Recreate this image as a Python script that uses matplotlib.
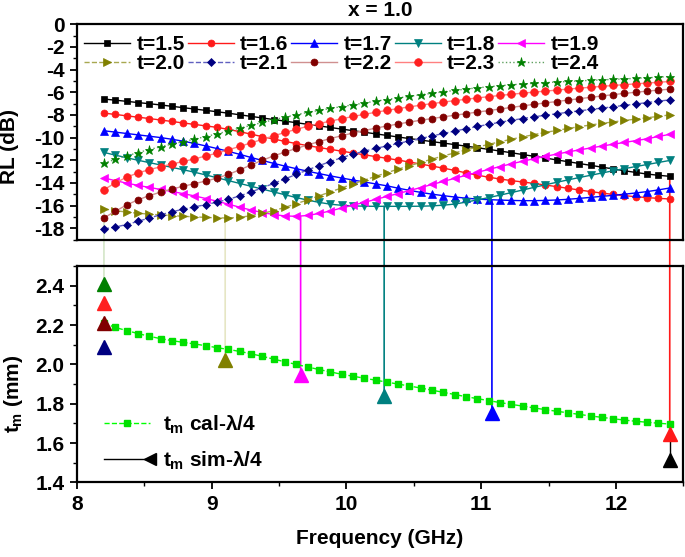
import numpy as np
import matplotlib
matplotlib.use('Agg')
import matplotlib.pyplot as plt
from matplotlib.lines import Line2D
from matplotlib.legend_handler import HandlerLine2D
from matplotlib.patches import ConnectionPatch
from matplotlib.ticker import MultipleLocator

plt.rcParams.update({
    'font.family': ['Liberation Sans', 'DejaVu Sans'],
    'font.weight': 'bold',
    'axes.labelweight': 'bold',
    'axes.titleweight': 'bold',
    'font.size': 15,
    'axes.unicode_minus': False,
    'mathtext.fontset': 'custom',
    'mathtext.rm': 'Liberation Sans:bold',
    'mathtext.it': 'Liberation Sans:bold',
    'mathtext.bf': 'Liberation Sans:bold',
})

# ---------------- data ----------------
freq = [8.200, 8.284, 8.368, 8.452, 8.536, 8.620, 8.704, 8.788, 8.872, 8.956,
        9.040, 9.124, 9.208, 9.292, 9.376, 9.460, 9.544, 9.628, 9.712, 9.796,
        9.880, 9.964, 10.048, 10.132, 10.216, 10.300, 10.384, 10.468, 10.552, 10.636,
        10.720, 10.804, 10.888, 10.972, 11.056, 11.140, 11.224, 11.308, 11.392, 11.476,
        11.560, 11.644, 11.728, 11.812, 11.896, 11.980, 12.064, 12.148, 12.232, 12.316, 12.400]

rl_t15 = [-6.60, -6.70, -6.80, -6.91, -7.01, -7.12, -7.24, -7.36, -7.48, -7.60,
          -7.72, -7.85, -7.99, -8.13, -8.27, -8.41, -8.55, -8.69, -8.83, -8.97,
          -9.11, -9.25, -9.39, -9.53, -9.67, -9.81, -9.95, -10.09, -10.22, -10.36,
          -10.49, -10.62, -10.76, -10.90, -11.04, -11.19, -11.34, -11.50, -11.65, -11.81,
          -11.97, -12.13, -12.29, -12.45, -12.61, -12.77, -12.93, -13.08, -13.22, -13.33, -13.42]
rl_t16 = [-7.84, -7.96, -8.08, -8.20, -8.32, -8.45, -8.58, -8.71, -8.84, -8.97,
          -9.10, -9.28, -9.48, -9.70, -9.92, -10.13, -10.34, -10.53, -10.71, -10.88,
          -11.04, -11.20, -11.36, -11.52, -11.68, -11.83, -11.99, -12.16, -12.34, -12.52,
          -12.70, -12.90, -13.12, -13.32, -13.50, -13.66, -13.80, -13.92, -14.05, -14.19,
          -14.33, -14.48, -14.63, -14.77, -14.90, -15.02, -15.13, -15.22, -15.30, -15.37, -15.42]
rl_t17 = [-9.40, -9.52, -9.64, -9.76, -9.88, -10.00, -10.15, -10.32, -10.52, -10.74,
          -10.97, -11.22, -11.48, -11.76, -12.02, -12.28, -12.52, -12.75, -12.97, -13.18,
          -13.38, -13.57, -13.75, -13.92, -14.09, -14.26, -14.47, -14.66, -14.84, -15.00,
          -15.13, -15.25, -15.35, -15.43, -15.48, -15.52, -15.55, -15.57, -15.57, -15.55,
          -15.51, -15.45, -15.37, -15.28, -15.19, -15.10, -15.00, -14.89, -14.77, -14.62, -14.45]
rl_t18 = [-11.31, -11.55, -11.78, -12.00, -12.21, -12.42, -12.63, -12.84, -13.06, -13.30,
          -13.55, -13.80, -14.05, -14.30, -14.55, -14.80, -15.05, -15.30, -15.52, -15.72,
          -15.88, -15.98, -16.03, -16.06, -16.07, -16.07, -16.07, -16.07, -16.06, -16.03,
          -15.97, -15.87, -15.70, -15.50, -15.30, -15.08, -14.86, -14.63, -14.40, -14.17,
          -13.95, -13.74, -13.53, -13.33, -13.13, -12.93, -12.74, -12.56, -12.38, -12.20, -12.02]
rl_t19 = [-13.57, -13.80, -14.02, -14.22, -14.40, -14.58, -14.76, -14.95, -15.15, -15.38,
          -15.62, -15.88, -16.15, -16.40, -16.62, -16.80, -16.92, -16.95, -16.88, -16.70,
          -16.48, -16.22, -15.97, -15.72, -15.46, -15.20, -14.94, -14.68, -14.41, -14.14,
          -13.87, -13.60, -13.33, -13.07, -12.81, -12.56, -12.32, -12.09, -11.87, -11.66,
          -11.46, -11.27, -11.09, -10.92, -10.75, -10.59, -10.43, -10.27, -10.11, -9.90, -9.72]
rl_t20 = [-16.30, -16.45, -16.58, -16.68, -16.76, -16.83, -16.89, -16.95, -17.00, -17.05,
          -17.09, -17.10, -17.04, -16.90, -16.70, -16.45, -16.16, -15.84, -15.50, -15.15,
          -14.80, -14.45, -14.10, -13.76, -13.43, -13.10, -12.79, -12.49, -12.19, -11.90,
          -11.62, -11.35, -11.09, -10.84, -10.60, -10.37, -10.15, -9.94, -9.74, -9.55,
          -9.37, -9.20, -9.04, -8.89, -8.75, -8.62, -8.49, -8.37, -8.25, -8.13, -8.00]
rl_t21 = [-18.07, -17.90, -17.68, -17.40, -17.10, -16.82, -16.55, -16.33, -16.12, -15.92,
          -15.70, -15.45, -15.15, -14.80, -14.43, -14.05, -13.65, -13.25, -12.86, -12.48,
          -12.12, -11.78, -11.47, -11.20, -10.96, -10.74, -10.52, -10.30, -10.08, -9.86,
          -9.64, -9.43, -9.22, -9.02, -8.83, -8.65, -8.48, -8.32, -8.17, -8.03,
          -7.90, -7.77, -7.64, -7.52, -7.40, -7.28, -7.16, -7.04, -6.91, -6.79, -6.67]
rl_t22 = [-17.09, -16.51, -15.95, -15.50, -15.13, -14.82, -14.55, -14.30, -14.07, -13.84,
          -13.58, -13.25, -12.85, -12.42, -12.00, -11.62, -11.28, -10.96, -10.65, -10.36,
          -10.09, -9.84, -9.60, -9.38, -9.17, -8.98, -8.80, -8.63, -8.47, -8.32,
          -8.17, -8.03, -7.89, -7.75, -7.62, -7.48, -7.34, -7.20, -7.07, -6.94,
          -6.82, -6.69, -6.57, -6.45, -6.33, -6.21, -6.10, -6.00, -5.90, -5.81, -5.73]
rl_t23 = [-14.60, -14.01, -13.50, -13.12, -12.84, -12.58, -12.34, -12.11, -11.88, -11.63,
          -11.37, -11.08, -10.78, -10.47, -10.16, -9.85, -9.55, -9.27, -9.01, -8.77,
          -8.55, -8.34, -8.14, -7.95, -7.77, -7.60, -7.44, -7.29, -7.14, -7.00,
          -6.87, -6.74, -6.62, -6.50, -6.39, -6.28, -6.18, -6.08, -5.99, -5.90,
          -5.81, -5.72, -5.64, -5.56, -5.48, -5.40, -5.33, -5.26, -5.19, -5.12, -5.05]
rl_t24 = [-12.25, -11.93, -11.62, -11.33, -11.06, -10.81, -10.58, -10.36, -10.14, -9.91,
          -9.67, -9.42, -9.17, -8.92, -8.67, -8.43, -8.20, -7.98, -7.78, -7.60,
          -7.43, -7.27, -7.11, -6.95, -6.79, -6.64, -6.50, -6.36, -6.22, -6.09,
          -5.96, -5.84, -5.72, -5.61, -5.51, -5.42, -5.34, -5.27, -5.21, -5.15,
          -5.10, -5.05, -5.00, -4.95, -4.91, -4.86, -4.82, -4.77, -4.72, -4.67, -4.61]

series_labels = ['t=1.5', 't=1.6', 't=1.7', 't=1.8', 't=1.9',
                 't=2.0', 't=2.1', 't=2.2', 't=2.3', 't=2.4']
series_values = [rl_t15, rl_t16, rl_t17, rl_t18, rl_t19,
                 rl_t20, rl_t21, rl_t22, rl_t23, rl_t24]

tm_cal = [2.210, 2.188, 2.172, 2.157, 2.143, 2.131, 2.121, 2.112, 2.104, 2.095,
          2.085, 2.076, 2.066, 2.054, 2.041, 2.027, 2.013, 2.000, 1.987, 1.974,
          1.962, 1.950, 1.940, 1.930, 1.920, 1.910, 1.900, 1.890, 1.880, 1.869,
          1.858, 1.847, 1.836, 1.826, 1.816, 1.806, 1.797, 1.788, 1.779, 1.770,
          1.762, 1.754, 1.746, 1.738, 1.731, 1.724, 1.717, 1.711, 1.706, 1.701, 1.697]

# simulated quarter-wave thicknesses (t = 2.4 ... 1.5)
sim_f = [8.2, 8.2, 8.2, 8.2, 9.1, 9.66, 10.28, 11.08, 12.4, 12.4]
sim_tm = [2.41, 2.31, 2.21, 2.09, 2.02, 1.947, 1.841, 1.751, 1.646, 1.515]

# vertical guide lines: frequency, RL in top panel, tm in bottom panel
guide_f = [8.2, 9.1, 9.66, 10.28, 11.08, 12.4]
guide_rl = [-16.3, -17.1, -16.95, -16.07, -15.57, -13.42]
guide_tm = [2.41, 2.02, 1.947, 1.841, 1.751, 1.646]

# ---------------- styles ----------------
mk_colors = ['#000000', '#ff1a1a', '#0000ff', '#008080', '#ff00ff',
             '#808000', '#000080', '#800000', '#ff2020', '#008000']
ln_colors = ['#000000', '#ff1a1a', '#0000ff', '#008080', '#ff00ff',
             '#a8a850', '#6060c0', '#d09090', '#ff8080', '#60a060']
markers = ['s', 'o', '^', 'v', '<', '>', 'D', 'o', 'o', '*']
msizes = [4.2, 5, 5.5, 5.5, 5.5, 5.5, 4.2, 5, 5.5, 6.5]
lstyles = ['-', '-', '-', '-', '-', '--', '--', '-', '-', ':']
sim_colors = ['#008000', '#ff2020', '#800000', '#000080', '#808000',
              '#ff00ff', '#008080', '#0000ff', '#ff1a1a', '#000000']
guide_colors = ['#d4e6c8', '#e6e6c4', '#ff00ff', '#008080', '#0000ff', '#ff1a1a']

fig = plt.figure(figsize=(6.85, 5.57), dpi=100)
ax1 = fig.add_axes([0.1124, 0.570, 0.885, 0.3864])
ax2 = fig.add_axes([0.1124, 0.1338, 0.885, 0.3886])
for ax in (ax1, ax2):
    ax.set_facecolor('none')
    for s in ax.spines.values():
        s.set_linewidth(1.6)

handles = []
for lab, vals, mc, lc, m, ms, ls in zip(series_labels, series_values, mk_colors,
                                         ln_colors, markers, msizes, lstyles):
    h, = ax1.plot(freq, vals, color=lc, ls=ls, lw=1.0, marker=m, ms=ms,
                  mfc=mc, mec=mc, mew=0.5, label=lab, zorder=3)
    handles.append(h)

order = [0, 5, 1, 6, 2, 7, 3, 8, 4, 9]
leg1 = ax1.legend([handles[i] for i in order], [series_labels[i] for i in order],
                  ncol=5, loc='upper left', bbox_to_anchor=(0.012, 0.95),
                  frameon=False, handlelength=2.2, handletextpad=0.3,
                  columnspacing=0.15, labelspacing=0.0, borderpad=0.0,
                  borderaxespad=0.0, prop={'size': 15, 'weight': 'bold'})

ax1.set_xlim(8, 12.5)
ax1.set_ylim(-19, 0)
ax1.yaxis.set_major_locator(MultipleLocator(2))
ax1.yaxis.set_minor_locator(MultipleLocator(1))
ax1.tick_params(axis='x', which='both', bottom=False, labelbottom=False)
ax1.tick_params(axis='y', which='major', direction='out', length=5, width=1.3, pad=4)
ax1.tick_params(axis='y', which='minor', direction='out', length=3, width=1.0)
ax1.set_ylabel('RL (dB)')
ax1.yaxis.set_label_coords(-0.095, 0.43)
ax1.set_title('x = 1.0', fontsize=15, fontweight='bold', pad=6)

# bottom panel
cal, = ax2.plot(freq, tm_cal, color='#00ff00', ls='--', lw=1.0, marker='s', ms=4.5,
                mfc='#00e000', mec='#00e000', zorder=3)
for fx, ty, c in zip(sim_f, sim_tm, sim_colors):
    ax2.plot([fx], [ty], marker='^', ms=10, color=c, ls='none', zorder=4)
# short black link between the two edge triangles at the high-frequency end
ax2.plot([sim_f[8], sim_f[9]], [sim_tm[8], sim_tm[9]], color='k', lw=1.0, zorder=2)

for fx, r, t, c in zip(guide_f, guide_rl, guide_tm, guide_colors):
    con = ConnectionPatch(xyA=(fx, r), coordsA=ax1.transData,
                          xyB=(fx, t), coordsB=ax2.transData,
                          color=c, lw=1.2, zorder=-1)
    fig.add_artist(con)

ax2.set_xlim(8, 12.5)
ax2.set_ylim(1.4, 2.5)
ax2.xaxis.set_major_locator(MultipleLocator(1))
ax2.xaxis.set_minor_locator(MultipleLocator(0.5))
ax2.yaxis.set_major_locator(MultipleLocator(0.2))
ax2.yaxis.set_minor_locator(MultipleLocator(0.1))
ax2.tick_params(which='major', direction='out', length=5, width=1.3, pad=4)
ax2.tick_params(which='minor', direction='out', length=3, width=1.0)
ax2.set_ylabel('$t_m$ (mm)')
ax2.yaxis.set_label_coords(-0.086, 0.41)
ax2.set_xlabel('Frequency (GHz)', labelpad=11)


class EndMarkerHandler(HandlerLine2D):
    def create_artists(self, legend, orig_handle, xdescent, ydescent, width,
                       height, fontsize, trans):
        arts = super().create_artists(legend, orig_handle, xdescent, ydescent,
                                      width, height, fontsize, trans)
        for a in arts:
            if isinstance(a, Line2D) and len(a.get_xdata()) == 3:
                a.set_markevery([2])
        return arts


sim_handle = Line2D([], [], color='k', lw=1.0, marker='<', ms=9, mfc='k', mec='k')
leg2 = ax2.legend([cal, sim_handle], ['$t_m$ cal-λ/4', '$t_m$ sim-λ/4'],
                  loc='lower left', bbox_to_anchor=(0.045, 0.05), frameon=False,
                  handlelength=2.2, handletextpad=0.6, labelspacing=0.65,
                  borderpad=0.0, borderaxespad=0.0,
                  handler_map={sim_handle: EndMarkerHandler()},
                  prop={'size': 15, 'weight': 'bold'})

fig.savefig('out.png', dpi=100)
